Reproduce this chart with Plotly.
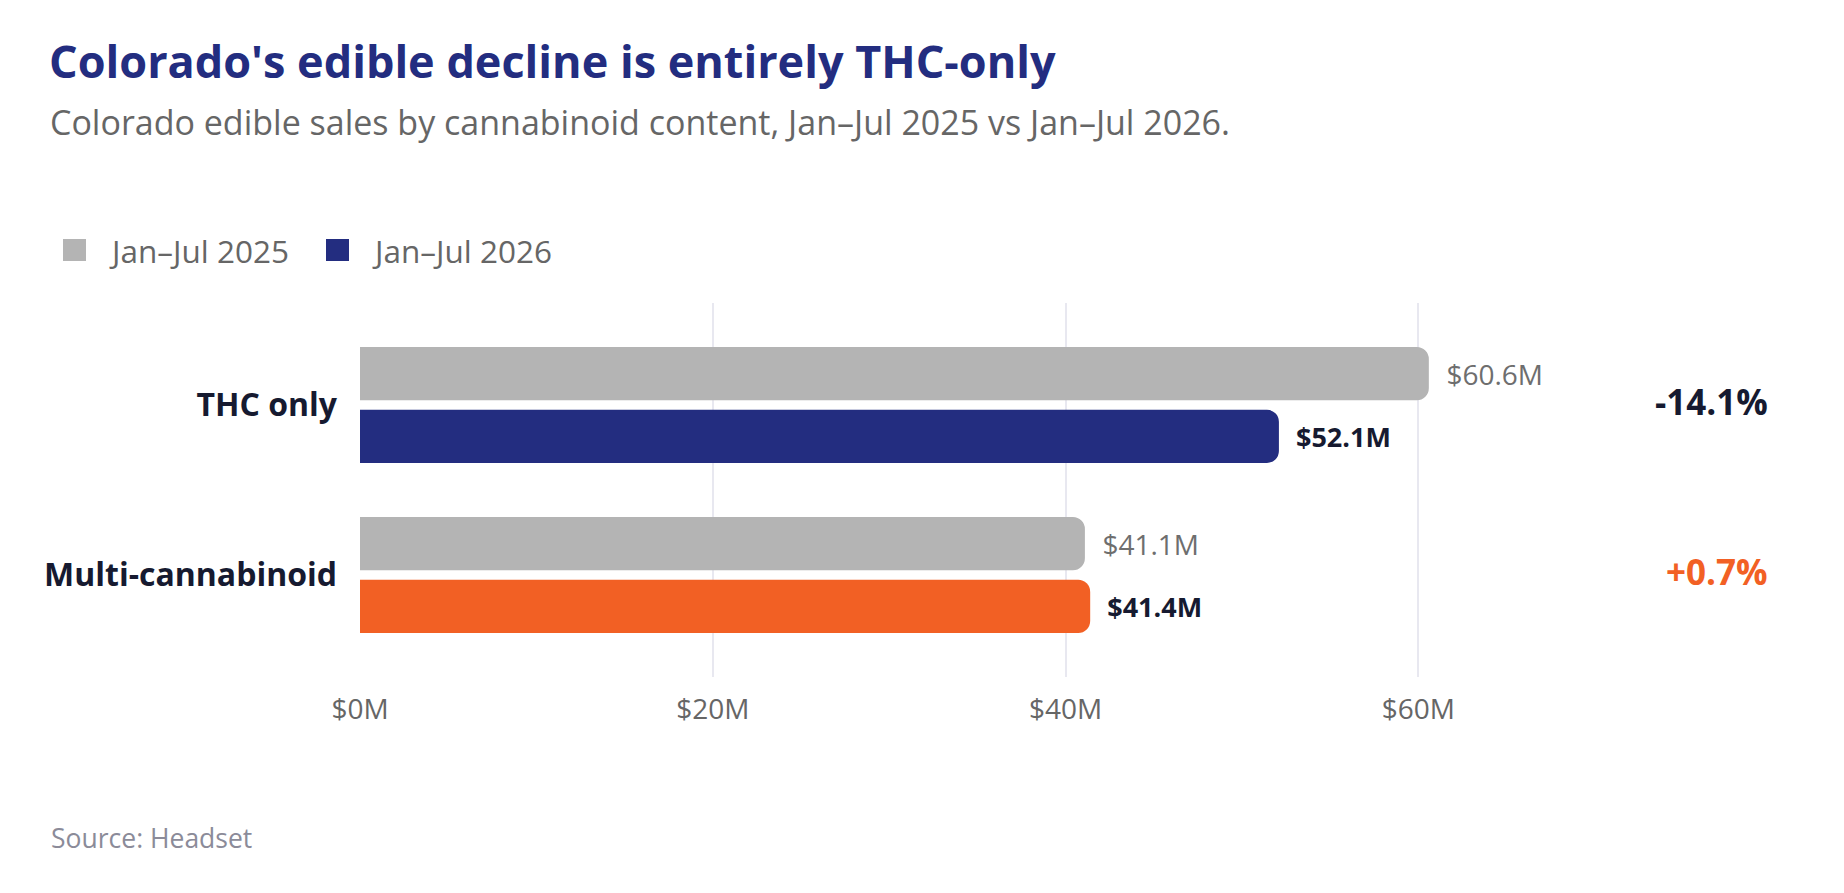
import plotly.graph_objects as go

# data
categories = ["THC only", "Multi-cannabinoid"]
sales_2025 = [60.6, 41.1]
sales_2026 = [52.1, 41.4]
pct_change = ["-14.1%", "+0.7%"]
series_names = ["Jan\u2013Jul 2025", "Jan\u2013Jul 2026"]
x_ticks = [0, 20, 40, 60]

NAVY = "#232d80"
ORANGE = "#f26024"
GRAY_BAR = "#b4b4b4"
DARK = "#161a30"
FONT = "Open Sans"

# the page puts the figure 8px in from the window corner
OFF = 8
W, H = 1844 - 2 * OFF, 893 - 2 * OFF
L, T = 360 - OFF, 303 - OFF
R, B = W - (1771 - OFF), H - (677 - OFF)
PW, PH = W - L - R, H - T - B


def px(x):
    # screen x -> paper
    return (x - OFF - L) / PW


def py(y):
    # screen y -> paper
    return (H - B - (y - OFF)) / PH


fig = go.Figure()
fig.add_trace(go.Bar(
    y=categories, x=sales_2025, orientation="h", name=series_names[0],
    marker=dict(color=GRAY_BAR, line=dict(width=0)),
    texttemplate="\u00a0\u00a0$%{x:.1f}M", textposition="outside",
    textfont=dict(family=FONT, size=28, color="#6e6e6e"),
    cliponaxis=False, constraintext="none", hoverinfo="skip",
))
fig.add_trace(go.Bar(
    y=categories, x=sales_2026, orientation="h", name=series_names[1],
    marker=dict(color=[NAVY, ORANGE], line=dict(width=0)),
    texttemplate="\u00a0\u00a0$%{x:.1f}M", textposition="outside",
    textfont=dict(family=FONT, size=27, color=DARK, weight="bold"),
    cliponaxis=False, constraintext="none", hoverinfo="skip",
))

annotations = [
    dict(text="Colorado edible sales by cannabinoid content, Jan\u2013Jul 2025 vs Jan\u2013Jul 2026.",
         x=px(48), y=py(122), xanchor="left", yanchor="middle",
         font=dict(family=FONT, size=34, color="#666666")),
    dict(text="Source: Headset", x=px(49), y=py(838), xanchor="left", yanchor="middle",
         font=dict(family=FONT, size=26.5, color="#8b8b99")),
    dict(text=series_names[0], x=px(107), y=py(250), xanchor="left", yanchor="middle",
         font=dict(family=FONT, size=31.5, color="#666666")),
    dict(text=series_names[1], x=px(370), y=py(250), xanchor="left", yanchor="middle",
         font=dict(family=FONT, size=31.5, color="#666666")),
]
pct_colors = [DARK, ORANGE]
for cat, txt, col in zip(categories, pct_change, pct_colors):
    annotations.append(dict(
        text=txt, xref="paper", yref="y", x=px(1770), y=cat,
        xanchor="right", yanchor="middle", yshift=4,
        font=dict(family=FONT, size=35, color=col, weight="bold"),
    ))
for a in annotations:
    a.setdefault("xref", "paper")
    a.setdefault("yref", "paper")
    a["showarrow"] = False

shapes = [
    dict(type="rect", xref="paper", yref="paper", x0=px(63), x1=px(86), y0=py(261), y1=py(239),
         fillcolor=GRAY_BAR, line=dict(width=0)),
    dict(type="rect", xref="paper", yref="paper", x0=px(326), x1=px(349), y0=py(261), y1=py(239),
         fillcolor=NAVY, line=dict(width=0)),
]

fig.update_layout(
    width=W, height=H,
    margin=dict(l=L, r=R, t=T, b=B, autoexpand=False),
    paper_bgcolor="white", plot_bgcolor="white",
    barmode="group", bargap=0.262, bargroupgap=0.152, barcornerradius=12,
    showlegend=False,
    title=dict(text="<b>Colorado's edible decline is entirely THC-only</b>",
               xref="container", yref="container", x=(49 - OFF) / W, y=1 - (62 - OFF) / H,
               xanchor="left", yanchor="middle",
               font=dict(family=FONT, size=45, color=NAVY)),
    annotations=annotations, shapes=shapes,
    font=dict(family=FONT),
)
fig.update_xaxes(
    range=[0, 80], tickvals=x_ticks, ticktext=[f"${v}M" for v in x_ticks],
    showgrid=True, gridcolor="#e8e8f0", gridwidth=2, zeroline=False, showline=False,
    ticks="", ticklabelstandoff=13,
    tickfont=dict(family=FONT, size=28, color="#666666"),
)
fig.update_yaxes(
    range=[1.6, -0.6], showgrid=False, zeroline=False, showline=False, ticks="",
    ticklabelstandoff=22,
    tickfont=dict(family=FONT, size=32, color=DARK, weight="bold"),
)

fig.write_html("out.html")
